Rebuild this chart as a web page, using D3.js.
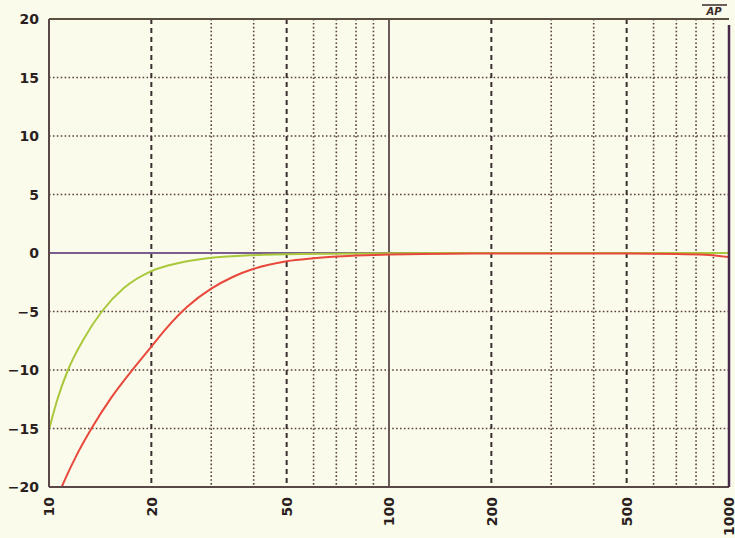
<!DOCTYPE html>
<html><head><meta charset="utf-8">
<script src="https://cdn.jsdelivr.net/npm/d3@7"></script>
<style>
html,body{margin:0;padding:0;background:#fafbea;}
svg{display:block;}
</style></head>
<body>
<svg id="c" width="735" height="538"></svg>
<script>
const xTicks = [10, 20, 50, 100, 200, 500, 1000];
const xMinorGrid = [30, 40, 60, 70, 80, 90, 300, 400, 600, 700, 800, 900];
const xMajorGrid = [20, 50, 200, 500];
const yTicks = [20, 15, 10, 5, 0, -5, -10, -15, -20];

const flatFreq = [10, 20, 50, 100, 200, 500, 1000];
const flatDb   = [0, 0, 0, 0, 0, 0, 0];

const greenFreq = [10, 10.56, 11.37, 12.68, 14.3, 16.6, 20, 24.1, 30, 38.8, 54.4, 100, 200, 500, 1000];
const greenDb   = [-15.1, -12.6, -10, -7.3, -5, -3.0, -1.55, -0.85, -0.4, -0.2, -0.08, -0.02, 0, 0, 0];

const redFreq = [10.56, 10.9, 12.0, 13.4, 15.3, 17.8, 20, 22.2, 25.5, 30, 34.7, 40, 50, 60, 70, 80, 100, 150, 200, 500, 700, 850, 1000];
const redDb   = [-21, -20, -17.4, -14.9, -12.3, -9.8, -8.0, -6.4, -4.6, -3.05, -2.05, -1.35, -0.7, -0.45, -0.3, -0.22, -0.12, -0.06, -0.05, -0.05, -0.08, -0.15, -0.35];

const L = 49, R = 729, T = 19, B = 487;
const svg = d3.select('#c');
const x = d3.scaleLog().domain([10, 1000]).range([L, R]);
const y = d3.scaleLinear().domain([-20, 20]).range([B, T]);

const gridCol = '#5a4242';
svg.append('g').selectAll('line').data(yTicks.filter(v => v !== 20 && v !== -20 && v !== 0)).join('line')
  .attr('x1', L).attr('x2', R).attr('y1', d => y(d)).attr('y2', d => y(d))
  .attr('stroke', gridCol).attr('stroke-width', 1.6).attr('stroke-dasharray', '1.6,2.3');
svg.append('g').selectAll('line').data(xMinorGrid).join('line')
  .attr('x1', d => x(d)).attr('x2', d => x(d)).attr('y1', T).attr('y2', B)
  .attr('stroke', gridCol).attr('stroke-width', 1.6).attr('stroke-dasharray', '1.6,2.3');
svg.append('g').selectAll('line').data(xMajorGrid).join('line')
  .attr('x1', d => x(d)).attr('x2', d => x(d)).attr('y1', T).attr('y2', B)
  .attr('stroke', '#3a2e2e').attr('stroke-width', 2).attr('stroke-dasharray', '5,4');
svg.append('line').attr('x1', x(100)).attr('x2', x(100)).attr('y1', T).attr('y2', B)
  .attr('stroke', '#5a4a4a').attr('stroke-width', 1.8);

svg.append('clipPath').attr('id', 'clip').append('rect').attr('x', L).attr('y', T).attr('width', R - L).attr('height', B - T);
const line = d3.line().x(d => x(d[0])).y(d => y(d[1])).curve(d3.curveMonotoneX);
const g = svg.append('g').attr('clip-path', 'url(#clip)');
const mk = (f, v) => f.map((d, i) => [d, v[i]]);
g.append('path').attr('d', line(mk(flatFreq, flatDb))).attr('fill', 'none').attr('stroke', '#7a5c8e').attr('stroke-width', 2.2);
g.append('path').attr('d', line(mk(greenFreq, greenDb))).attr('fill', 'none').attr('stroke', '#a9c83c').attr('stroke-width', 2);
g.append('path').attr('d', line(mk(redFreq, redDb))).attr('fill', 'none').attr('stroke', '#e8483c').attr('stroke-width', 2);

svg.append('line').attr('x1', L).attr('x2', R).attr('y1', T).attr('y2', T).attr('stroke', '#5a5040').attr('stroke-width', 2);
svg.append('line').attr('x1', L).attr('x2', R).attr('y1', B).attr('y2', B).attr('stroke', '#5a4848').attr('stroke-width', 2);
svg.append('line').attr('x1', L).attr('x2', L).attr('y1', T).attr('y2', B).attr('stroke', '#5a4848').attr('stroke-width', 2);
svg.append('line').attr('x1', R).attr('x2', R).attr('y1', T + 6).attr('y2', B).attr('stroke', '#4a2a4a').attr('stroke-width', 2.5);

const yAxis = d3.axisLeft(y).tickValues(yTicks).tickSize(0).tickPadding(0).tickFormat(d => d < 0 ? '\u2212' + Math.abs(d) : d);
const ya = svg.append('g').attr('transform', `translate(${L - 10},0)`).call(yAxis);
ya.select('.domain').remove();
ya.selectAll('text').attr('font-family', 'DejaVu Sans').attr('font-weight', 'bold').attr('font-size', 14)
  .attr('fill', '#2a1e1e').attr('dy', '0.35em');

const xAxis = d3.axisBottom(x).tickValues(xTicks).tickSize(0).tickFormat(d3.format('d'));
const xa = svg.append('g').attr('transform', `translate(0,${B})`).call(xAxis);
xa.select('.domain').remove();
xa.selectAll('text').attr('font-family', 'DejaVu Sans').attr('font-weight', 'bold').attr('font-size', 14)
  .attr('fill', '#2a1e1e').attr('text-anchor', 'end').attr('transform', 'rotate(-90)')
  .attr('x', -10).attr('y', 0).attr('dy', '0.35em');

svg.append('line').attr('x1', 702).attr('x2', 727).attr('y1', 5).attr('y2', 5).attr('stroke', '#3a2a2a').attr('stroke-width', 1.5);
svg.append('text').attr('x', 714).attr('y', 15).attr('text-anchor', 'middle').attr('font-family', 'DejaVu Sans')
  .attr('font-weight', 'bold').attr('font-style', 'italic').attr('font-size', 10).attr('fill', '#3a2a2a').text('AP');
</script>
</body></html>
